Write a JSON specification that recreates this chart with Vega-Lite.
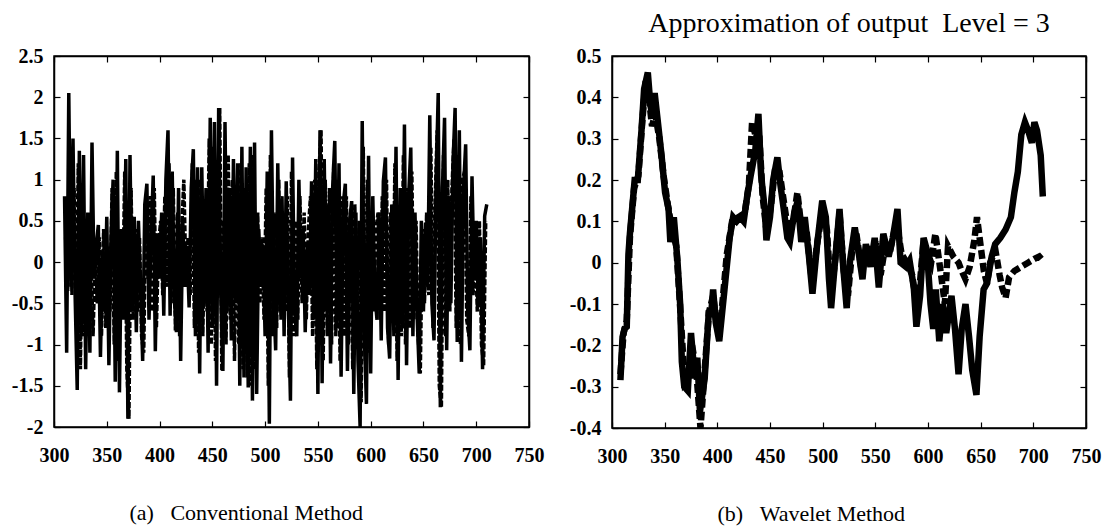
{
  "$schema": "https://vega.github.io/schema/vega-lite/v6.json",
  "background": "white",
  "padding": {"left": 10, "top": 9, "right": 5, "bottom": 5},
  "spacing": 23,
  "config": {
    "locale": {"number": {"decimal": ".", "thousands": ",", "grouping": [3], "currency": ["$", ""], "minus": "-"}},
    "font": "Liberation Serif",
    "view": {"stroke": "black", "strokeWidth": 1.5},
    "axis": {
      "grid": false,
      "domainColor": "black",
      "domainWidth": 1.5,
      "tickColor": "black",
      "tickWidth": 1.2,
      "tickSize": -6,
      "labelFont": "Liberation Serif",
      "labelFontWeight": "bold",
      "labelFontSize": 20,
      "labelColor": "black",
      "labelPadding": 24,
      "labelFlush": false,
      "labelOverlap": false,
      "titleFont": "Liberation Serif",
      "titleFontWeight": "normal",
      "titleFontSize": 22,
      "titleColor": "black"
    },
    "title": {"font": "Liberation Serif", "fontWeight": "normal", "fontSize": 28, "color": "black"}
  },
  "datasets": {
    "conv": [
      {"s":"solid","x":310,"y":0.8},{"s":"solid","x":312,"y":-1.1},{"s":"solid","x":314,"y":2.05},{"s":"solid","x":316,"y":-0.3},{"s":"solid","x":318,"y":1.5},{"s":"solid","x":320,"y":-0.4},{"s":"solid","x":322,"y":-1.55},{"s":"solid","x":324,"y":1.35},{"s":"solid","x":326,"y":-0.9},{"s":"solid","x":328,"y":1.3},
      {"s":"solid","x":330,"y":-1.3},{"s":"solid","x":332,"y":0.6},{"s":"solid","x":334,"y":-1.1},{"s":"solid","x":336,"y":1.45},{"s":"solid","x":338,"y":-0.2},{"s":"solid","x":340,"y":0.2},{"s":"solid","x":342,"y":0.45},{"s":"solid","x":344,"y":-1.15},{"s":"solid","x":346,"y":0.1},{"s":"solid","x":348,"y":-0.6},
      {"s":"solid","x":350,"y":0.55},{"s":"solid","x":352,"y":-1.25},{"s":"solid","x":354,"y":0.3},{"s":"solid","x":356,"y":1.0},{"s":"solid","x":358,"y":-1.45},{"s":"solid","x":360,"y":1.35},{"s":"solid","x":362,"y":-1.58},{"s":"solid","x":364,"y":0.4},{"s":"solid","x":366,"y":-0.7},{"s":"solid","x":368,"y":1.25},
      {"s":"solid","x":370,"y":-1.9},{"s":"solid","x":372,"y":1.3},{"s":"solid","x":374,"y":-0.6},{"s":"solid","x":376,"y":0.55},{"s":"solid","x":378,"y":-0.85},{"s":"solid","x":380,"y":0.5},{"s":"solid","x":382,"y":-0.3},{"s":"solid","x":384,"y":-1.2},{"s":"solid","x":386,"y":0.7},{"s":"solid","x":388,"y":0.95},
      {"s":"solid","x":390,"y":-0.7},{"s":"solid","x":392,"y":0.3},{"s":"solid","x":394,"y":1.05},{"s":"solid","x":396,"y":-1.08},{"s":"solid","x":398,"y":0.35},{"s":"solid","x":400,"y":-0.2},{"s":"solid","x":402,"y":0.6},{"s":"solid","x":404,"y":-0.65},{"s":"solid","x":406,"y":1.0},{"s":"solid","x":408,"y":1.6},
      {"s":"solid","x":410,"y":-0.65},{"s":"solid","x":412,"y":1.1},{"s":"solid","x":414,"y":-0.45},{"s":"solid","x":416,"y":-0.85},{"s":"solid","x":418,"y":0.9},{"s":"solid","x":420,"y":-1.2},{"s":"solid","x":422,"y":0.5},{"s":"solid","x":424,"y":-0.3},{"s":"solid","x":426,"y":0.2},{"s":"solid","x":428,"y":-0.55},
      {"s":"solid","x":430,"y":0.9},{"s":"solid","x":432,"y":1.37},{"s":"solid","x":434,"y":-0.9},{"s":"solid","x":436,"y":1.15},{"s":"solid","x":438,"y":-1.35},{"s":"solid","x":440,"y":1.15},{"s":"solid","x":442,"y":-0.5},{"s":"solid","x":444,"y":0.9},{"s":"solid","x":446,"y":-1.1},{"s":"solid","x":448,"y":1.75},
      {"s":"solid","x":450,"y":-0.8},{"s":"solid","x":452,"y":1.7},{"s":"solid","x":454,"y":-1.5},{"s":"solid","x":456,"y":1.87},{"s":"solid","x":458,"y":-0.4},{"s":"solid","x":460,"y":-1.32},{"s":"solid","x":462,"y":1.7},{"s":"solid","x":464,"y":-0.6},{"s":"solid","x":466,"y":0.9},{"s":"solid","x":468,"y":-0.95},
      {"s":"solid","x":470,"y":1.25},{"s":"solid","x":472,"y":-0.5},{"s":"solid","x":474,"y":1.2},{"s":"solid","x":476,"y":-1.5},{"s":"solid","x":478,"y":1.4},{"s":"solid","x":480,"y":-1.4},{"s":"solid","x":482,"y":1.15},{"s":"solid","x":484,"y":-1.52},{"s":"solid","x":486,"y":1.4},{"s":"solid","x":488,"y":-1.68},
      {"s":"solid","x":490,"y":1.45},{"s":"solid","x":492,"y":-1.6},{"s":"solid","x":494,"y":0.4},{"s":"solid","x":496,"y":-0.3},{"s":"solid","x":498,"y":0.2},{"s":"solid","x":500,"y":-0.9},{"s":"solid","x":502,"y":1.1},{"s":"solid","x":504,"y":-1.96},{"s":"solid","x":506,"y":1.6},{"s":"solid","x":508,"y":-0.4},
      {"s":"solid","x":510,"y":-1.07},{"s":"solid","x":512,"y":1.2},{"s":"solid","x":514,"y":-0.6},{"s":"solid","x":516,"y":0.8},{"s":"solid","x":518,"y":-0.9},{"s":"solid","x":520,"y":0.98},{"s":"solid","x":522,"y":-0.5},{"s":"solid","x":524,"y":-1.68},{"s":"solid","x":526,"y":1.27},{"s":"solid","x":528,"y":-0.6},
      {"s":"solid","x":530,"y":-0.9},{"s":"solid","x":532,"y":1.0},{"s":"solid","x":534,"y":-0.2},{"s":"solid","x":536,"y":0.4},{"s":"solid","x":538,"y":-0.85},{"s":"solid","x":540,"y":0.2},{"s":"solid","x":542,"y":-0.4},{"s":"solid","x":544,"y":0.98},{"s":"solid","x":546,"y":-0.7},{"s":"solid","x":548,"y":1.25},
      {"s":"solid","x":550,"y":-1.6},{"s":"solid","x":552,"y":1.6},{"s":"solid","x":554,"y":-1.47},{"s":"solid","x":556,"y":1.25},{"s":"solid","x":558,"y":-0.6},{"s":"solid","x":560,"y":0.7},{"s":"solid","x":562,"y":-1.23},{"s":"solid","x":564,"y":0.9},{"s":"solid","x":566,"y":1.47},{"s":"solid","x":568,"y":-0.8},
      {"s":"solid","x":570,"y":1.2},{"s":"solid","x":572,"y":-1.39},{"s":"solid","x":574,"y":0.7},{"s":"solid","x":576,"y":0.95},{"s":"solid","x":578,"y":-1.32},{"s":"solid","x":580,"y":0.5},{"s":"solid","x":582,"y":0.74},{"s":"solid","x":584,"y":-1.6},{"s":"solid","x":586,"y":0.6},{"s":"solid","x":588,"y":-1.2},
      {"s":"solid","x":590,"y":-2.0},{"s":"solid","x":592,"y":1.71},{"s":"solid","x":594,"y":-0.9},{"s":"solid","x":596,"y":-1.72},{"s":"solid","x":598,"y":1.29},{"s":"solid","x":600,"y":-1.35},{"s":"solid","x":602,"y":0.8},{"s":"solid","x":604,"y":-0.4},{"s":"solid","x":606,"y":-0.7},{"s":"solid","x":608,"y":0.6},
      {"s":"solid","x":610,"y":-0.95},{"s":"solid","x":612,"y":0.98},{"s":"solid","x":614,"y":1.27},{"s":"solid","x":616,"y":-0.8},{"s":"solid","x":618,"y":-1.17},{"s":"solid","x":620,"y":0.7},{"s":"solid","x":622,"y":-0.9},{"s":"solid","x":624,"y":1.4},{"s":"solid","x":626,"y":-1.43},{"s":"solid","x":628,"y":0.9},
      {"s":"solid","x":630,"y":-0.8},{"s":"solid","x":632,"y":1.67},{"s":"solid","x":634,"y":-1.25},{"s":"solid","x":636,"y":0.8},{"s":"solid","x":638,"y":1.39},{"s":"solid","x":640,"y":-0.9},{"s":"solid","x":642,"y":0.6},{"s":"solid","x":644,"y":-0.65},{"s":"solid","x":646,"y":-1.35},{"s":"solid","x":648,"y":0.5},
      {"s":"solid","x":650,"y":-0.6},{"s":"solid","x":652,"y":0.48},{"s":"solid","x":654,"y":-0.3},{"s":"solid","x":656,"y":1.78},{"s":"solid","x":658,"y":-0.5},{"s":"solid","x":660,"y":-0.95},{"s":"solid","x":662,"y":1.0},{"s":"solid","x":664,"y":2.05},{"s":"solid","x":666,"y":-1.76},{"s":"solid","x":668,"y":0.9},
      {"s":"solid","x":670,"y":1.75},{"s":"solid","x":672,"y":-1.07},{"s":"solid","x":674,"y":0.8},{"s":"solid","x":676,"y":-0.5},{"s":"solid","x":678,"y":1.2},{"s":"solid","x":680,"y":1.87},{"s":"solid","x":682,"y":-0.97},{"s":"solid","x":684,"y":1.6},{"s":"solid","x":686,"y":-1.21},{"s":"solid","x":688,"y":0.9},
      {"s":"solid","x":690,"y":1.43},{"s":"solid","x":692,"y":-0.6},{"s":"solid","x":694,"y":-1.07},{"s":"solid","x":696,"y":1.04},{"s":"solid","x":698,"y":-0.2},{"s":"solid","x":700,"y":0.5},{"s":"solid","x":702,"y":-0.5},{"s":"solid","x":704,"y":0.3},{"s":"solid","x":706,"y":-1.3},{"s":"solid","x":708,"y":0.56},
      {"s":"solid","x":710,"y":0.7},
      {"s":"dashed","x":311,"y":0.3},{"s":"dashed","x":313,"y":-0.35},{"s":"dashed","x":315,"y":1.2},{"s":"dashed","x":317,"y":-0.4},{"s":"dashed","x":319,"y":0.9},{"s":"dashed","x":321,"y":-0.5},{"s":"dashed","x":323,"y":1.2},{"s":"dashed","x":325,"y":-1.3},{"s":"dashed","x":327,"y":0.8},{"s":"dashed","x":329,"y":-0.9},
      {"s":"dashed","x":331,"y":0.5},{"s":"dashed","x":333,"y":-0.4},{"s":"dashed","x":335,"y":0.2},{"s":"dashed","x":337,"y":-0.9},{"s":"dashed","x":339,"y":0.1},{"s":"dashed","x":341,"y":-0.5},{"s":"dashed","x":343,"y":0.3},{"s":"dashed","x":345,"y":-0.9},{"s":"dashed","x":347,"y":0.4},{"s":"dashed","x":349,"y":-0.8},
      {"s":"dashed","x":351,"y":0.2},{"s":"dashed","x":353,"y":-0.6},{"s":"dashed","x":355,"y":0.9},{"s":"dashed","x":357,"y":-1.0},{"s":"dashed","x":359,"y":1.1},{"s":"dashed","x":361,"y":-1.2},{"s":"dashed","x":363,"y":0.3},{"s":"dashed","x":365,"y":-0.5},{"s":"dashed","x":367,"y":1.1},{"s":"dashed","x":369,"y":-1.3},
      {"s":"dashed","x":371,"y":-1.9},{"s":"dashed","x":373,"y":0.9},{"s":"dashed","x":375,"y":-0.7},{"s":"dashed","x":377,"y":0.4},{"s":"dashed","x":379,"y":-0.6},{"s":"dashed","x":381,"y":0.3},{"s":"dashed","x":383,"y":-0.9},{"s":"dashed","x":385,"y":-1.1},{"s":"dashed","x":387,"y":0.6},{"s":"dashed","x":389,"y":-0.2},
      {"s":"dashed","x":391,"y":0.8},{"s":"dashed","x":393,"y":-0.6},{"s":"dashed","x":395,"y":0.9},{"s":"dashed","x":397,"y":-0.8},{"s":"dashed","x":399,"y":0.2},{"s":"dashed","x":401,"y":0.5},{"s":"dashed","x":403,"y":-0.4},{"s":"dashed","x":405,"y":0.8},{"s":"dashed","x":407,"y":-0.3},{"s":"dashed","x":409,"y":1.2},
      {"s":"dashed","x":411,"y":-0.5},{"s":"dashed","x":413,"y":0.9},{"s":"dashed","x":415,"y":-0.83},{"s":"dashed","x":417,"y":0.6},{"s":"dashed","x":419,"y":-0.9},{"s":"dashed","x":421,"y":0.4},{"s":"dashed","x":423,"y":1.0},{"s":"dashed","x":425,"y":-0.2},{"s":"dashed","x":427,"y":0.3},{"s":"dashed","x":429,"y":-0.4},
      {"s":"dashed","x":431,"y":1.2},{"s":"dashed","x":433,"y":-0.8},{"s":"dashed","x":435,"y":1.0},{"s":"dashed","x":437,"y":-1.1},{"s":"dashed","x":439,"y":1.0},{"s":"dashed","x":441,"y":-0.9},{"s":"dashed","x":443,"y":0.7},{"s":"dashed","x":445,"y":-0.6},{"s":"dashed","x":447,"y":1.5},{"s":"dashed","x":449,"y":-1.0},
      {"s":"dashed","x":451,"y":1.4},{"s":"dashed","x":453,"y":-1.2},{"s":"dashed","x":455,"y":0.6},{"s":"dashed","x":457,"y":1.87},{"s":"dashed","x":459,"y":-1.32},{"s":"dashed","x":461,"y":0.5},{"s":"dashed","x":463,"y":-1.0},{"s":"dashed","x":465,"y":1.3},{"s":"dashed","x":467,"y":-0.7},{"s":"dashed","x":469,"y":1.0},
      {"s":"dashed","x":471,"y":-1.2},{"s":"dashed","x":473,"y":0.9},{"s":"dashed","x":475,"y":-1.0},{"s":"dashed","x":477,"y":1.2},{"s":"dashed","x":479,"y":-1.3},{"s":"dashed","x":481,"y":0.9},{"s":"dashed","x":483,"y":-1.4},{"s":"dashed","x":485,"y":1.2},{"s":"dashed","x":487,"y":-1.5},{"s":"dashed","x":489,"y":1.3},
      {"s":"dashed","x":491,"y":-1.3},{"s":"dashed","x":493,"y":0.6},{"s":"dashed","x":495,"y":-0.5},{"s":"dashed","x":497,"y":0.3},{"s":"dashed","x":499,"y":-0.7},{"s":"dashed","x":501,"y":0.9},{"s":"dashed","x":503,"y":-1.5},{"s":"dashed","x":505,"y":1.3},{"s":"dashed","x":507,"y":-0.9},{"s":"dashed","x":509,"y":0.6},
      {"s":"dashed","x":511,"y":-0.8},{"s":"dashed","x":513,"y":1.0},{"s":"dashed","x":515,"y":-0.7},{"s":"dashed","x":517,"y":0.6},{"s":"dashed","x":519,"y":-0.6},{"s":"dashed","x":521,"y":0.8},{"s":"dashed","x":523,"y":-1.4},{"s":"dashed","x":525,"y":1.1},{"s":"dashed","x":527,"y":-0.9},{"s":"dashed","x":529,"y":0.5},
      {"s":"dashed","x":531,"y":-0.7},{"s":"dashed","x":533,"y":0.8},{"s":"dashed","x":535,"y":-0.5},{"s":"dashed","x":537,"y":0.6},{"s":"dashed","x":539,"y":-0.7},{"s":"dashed","x":541,"y":0.4},{"s":"dashed","x":543,"y":0.8},{"s":"dashed","x":545,"y":-0.9},{"s":"dashed","x":547,"y":1.0},{"s":"dashed","x":549,"y":-1.3},
      {"s":"dashed","x":551,"y":1.1},{"s":"dashed","x":553,"y":1.6},{"s":"dashed","x":555,"y":-1.2},{"s":"dashed","x":557,"y":1.0},{"s":"dashed","x":559,"y":-0.9},{"s":"dashed","x":561,"y":0.9},{"s":"dashed","x":563,"y":-1.0},{"s":"dashed","x":565,"y":1.2},{"s":"dashed","x":567,"y":-0.9},{"s":"dashed","x":569,"y":1.0},
      {"s":"dashed","x":571,"y":-1.2},{"s":"dashed","x":573,"y":0.8},{"s":"dashed","x":575,"y":-0.9},{"s":"dashed","x":577,"y":0.8},{"s":"dashed","x":579,"y":-1.0},{"s":"dashed","x":581,"y":0.6},{"s":"dashed","x":583,"y":-1.3},{"s":"dashed","x":585,"y":0.7},{"s":"dashed","x":587,"y":-0.9},{"s":"dashed","x":589,"y":0.5},
      {"s":"dashed","x":591,"y":-1.7},{"s":"dashed","x":593,"y":1.4},{"s":"dashed","x":595,"y":-1.2},{"s":"dashed","x":597,"y":1.0},{"s":"dashed","x":599,"y":-1.1},{"s":"dashed","x":601,"y":0.6},{"s":"dashed","x":603,"y":-0.6},{"s":"dashed","x":605,"y":0.4},{"s":"dashed","x":607,"y":0.6},{"s":"dashed","x":609,"y":-0.7},
      {"s":"dashed","x":611,"y":0.8},{"s":"dashed","x":613,"y":-0.6},{"s":"dashed","x":615,"y":1.0},{"s":"dashed","x":617,"y":-1.0},{"s":"dashed","x":619,"y":0.6},{"s":"dashed","x":621,"y":-0.7},{"s":"dashed","x":623,"y":1.2},{"s":"dashed","x":625,"y":-1.2},{"s":"dashed","x":627,"y":0.7},{"s":"dashed","x":629,"y":-0.9},
      {"s":"dashed","x":631,"y":1.3},{"s":"dashed","x":633,"y":-1.0},{"s":"dashed","x":635,"y":0.9},{"s":"dashed","x":637,"y":-0.8},{"s":"dashed","x":639,"y":1.1},{"s":"dashed","x":641,"y":-0.7},{"s":"dashed","x":643,"y":0.5},{"s":"dashed","x":645,"y":-0.9},{"s":"dashed","x":647,"y":-1.35},{"s":"dashed","x":649,"y":0.4},
      {"s":"dashed","x":651,"y":-0.5},{"s":"dashed","x":653,"y":0.6},{"s":"dashed","x":655,"y":-0.4},{"s":"dashed","x":657,"y":1.4},{"s":"dashed","x":659,"y":-0.8},{"s":"dashed","x":661,"y":0.7},{"s":"dashed","x":663,"y":1.6},{"s":"dashed","x":665,"y":-1.5},{"s":"dashed","x":667,"y":-1.76},{"s":"dashed","x":669,"y":1.3},
      {"s":"dashed","x":671,"y":-0.9},{"s":"dashed","x":673,"y":1.0},{"s":"dashed","x":675,"y":-0.6},{"s":"dashed","x":677,"y":0.9},{"s":"dashed","x":679,"y":1.5},{"s":"dashed","x":681,"y":-0.8},{"s":"dashed","x":683,"y":1.3},{"s":"dashed","x":685,"y":-1.0},{"s":"dashed","x":687,"y":1.0},{"s":"dashed","x":689,"y":1.1},
      {"s":"dashed","x":691,"y":-0.7},{"s":"dashed","x":693,"y":-0.9},{"s":"dashed","x":695,"y":0.8},{"s":"dashed","x":697,"y":-0.4},{"s":"dashed","x":699,"y":0.3},{"s":"dashed","x":701,"y":-0.6},{"s":"dashed","x":703,"y":0.5},{"s":"dashed","x":705,"y":-1.0},{"s":"dashed","x":707,"y":-1.25},{"s":"dashed","x":709,"y":0.5}
    ],
    "wav": [
      {"s":"solid","x":308,"y":-0.284},{"s":"solid","x":310,"y":-0.18},{"s":"solid","x":312,"y":-0.16},{"s":"solid","x":314,"y":-0.155},{"s":"solid","x":315.6,"y":0.02},{"s":"solid","x":317,"y":0.07},{"s":"solid","x":320.5,"y":0.17},{"s":"solid","x":321.5,"y":0.2},{"s":"solid","x":324.5,"y":0.2},{"s":"solid","x":328,"y":0.32},
      {"s":"solid","x":330.5,"y":0.42},{"s":"solid","x":334,"y":0.46},{"s":"solid","x":336.5,"y":0.38},{"s":"solid","x":338,"y":0.36},{"s":"solid","x":340.5,"y":0.41},{"s":"solid","x":344,"y":0.33},{"s":"solid","x":347,"y":0.26},{"s":"solid","x":350.4,"y":0.17},{"s":"solid","x":353.7,"y":0.13},{"s":"solid","x":355.4,"y":0.05},
      {"s":"solid","x":358.7,"y":0.11},{"s":"solid","x":362,"y":0.01},{"s":"solid","x":364.7,"y":-0.1},{"s":"solid","x":366.3,"y":-0.24},{"s":"solid","x":368.6,"y":-0.3},{"s":"solid","x":372,"y":-0.31},{"s":"solid","x":375,"y":-0.17},{"s":"solid","x":378.6,"y":-0.28},{"s":"solid","x":381,"y":-0.23},{"s":"solid","x":383.5,"y":-0.36},
      {"s":"solid","x":388,"y":-0.28},{"s":"solid","x":392,"y":-0.115},{"s":"solid","x":394,"y":-0.13},{"s":"solid","x":396,"y":-0.065},{"s":"solid","x":398.5,"y":-0.145},{"s":"solid","x":401.8,"y":-0.19},{"s":"solid","x":406.8,"y":-0.065},{"s":"solid","x":411.7,"y":0.06},{"s":"solid","x":415,"y":0.11},{"s":"solid","x":418.4,"y":0.1},
      {"s":"solid","x":421.7,"y":0.11},{"s":"solid","x":425,"y":0.1},{"s":"solid","x":428.3,"y":0.16},{"s":"solid","x":431.6,"y":0.21},{"s":"solid","x":436,"y":0.27},{"s":"solid","x":439,"y":0.36},{"s":"solid","x":441.6,"y":0.21},{"s":"solid","x":445,"y":0.13},{"s":"solid","x":446.6,"y":0.054},{"s":"solid","x":450,"y":0.11},
      {"s":"solid","x":453,"y":0.2},{"s":"solid","x":457,"y":0.255},{"s":"solid","x":459.8,"y":0.19},{"s":"solid","x":463,"y":0.13},{"s":"solid","x":466.5,"y":0.06},{"s":"solid","x":468.8,"y":0.05},{"s":"solid","x":473,"y":0.12},{"s":"solid","x":476.4,"y":0.15},{"s":"solid","x":479.7,"y":0.05},{"s":"solid","x":483,"y":0.11},
      {"s":"solid","x":487,"y":0.015},{"s":"solid","x":490.3,"y":-0.075},{"s":"solid","x":494.6,"y":0.04},{"s":"solid","x":499.6,"y":0.15},{"s":"solid","x":503,"y":0.11},{"s":"solid","x":506,"y":-0.04},{"s":"solid","x":508,"y":-0.11},{"s":"solid","x":511,"y":-0.02},{"s":"solid","x":516,"y":0.13},{"s":"solid","x":519.5,"y":-0.01},
      {"s":"solid","x":522.8,"y":-0.11},{"s":"solid","x":526,"y":0.005},{"s":"solid","x":530.5,"y":0.085},{"s":"solid","x":534.4,"y":0.02},{"s":"solid","x":537.8,"y":-0.04},{"s":"solid","x":541,"y":0.045},{"s":"solid","x":545.4,"y":-0.01},{"s":"solid","x":549.4,"y":0.06},{"s":"solid","x":553.3,"y":-0.06},{"s":"solid","x":557.6,"y":0.07},
      {"s":"solid","x":562.6,"y":0.015},{"s":"solid","x":566.6,"y":0.06},{"s":"solid","x":571,"y":0.13},{"s":"solid","x":574,"y":0.0},{"s":"solid","x":579,"y":-0.01},{"s":"solid","x":582.5,"y":0.005},{"s":"solid","x":586.5,"y":-0.06},{"s":"solid","x":589,"y":-0.155},{"s":"solid","x":592.5,"y":-0.08},{"s":"solid","x":595.8,"y":0.06},
      {"s":"solid","x":599,"y":0.03},{"s":"solid","x":602.4,"y":-0.1},{"s":"solid","x":605,"y":-0.16},{"s":"solid","x":607.4,"y":-0.065},{"s":"solid","x":610.7,"y":-0.19},{"s":"solid","x":614,"y":-0.1},{"s":"solid","x":617.3,"y":-0.17},{"s":"solid","x":622.3,"y":-0.08},{"s":"solid","x":625.6,"y":-0.16},{"s":"solid","x":629,"y":-0.27},
      {"s":"solid","x":632,"y":-0.16},{"s":"solid","x":635.6,"y":-0.1},{"s":"solid","x":639,"y":-0.18},{"s":"solid","x":642,"y":-0.26},{"s":"solid","x":646,"y":-0.32},{"s":"solid","x":649,"y":-0.18},{"s":"solid","x":652.8,"y":-0.065},{"s":"solid","x":656,"y":-0.05},{"s":"solid","x":660.5,"y":0.015},{"s":"solid","x":663.8,"y":0.045},
      {"s":"solid","x":668.7,"y":0.06},{"s":"solid","x":673.7,"y":0.08},{"s":"solid","x":678.7,"y":0.11},{"s":"solid","x":682,"y":0.17},{"s":"solid","x":685.3,"y":0.22},{"s":"solid","x":688.6,"y":0.31},{"s":"solid","x":692,"y":0.34},{"s":"solid","x":695,"y":0.32},{"s":"solid","x":698.6,"y":0.29},{"s":"solid","x":701,"y":0.34},
      {"s":"solid","x":703.5,"y":0.32},{"s":"solid","x":707,"y":0.26},{"s":"solid","x":709,"y":0.16},
      {"s":"dashed","x":308,"y":-0.27},{"s":"dashed","x":311,"y":-0.17},{"s":"dashed","x":314,"y":-0.14},{"s":"dashed","x":317,"y":0.06},{"s":"dashed","x":321,"y":0.18},{"s":"dashed","x":325,"y":0.21},{"s":"dashed","x":329,"y":0.35},{"s":"dashed","x":332,"y":0.44},{"s":"dashed","x":335,"y":0.4},{"s":"dashed","x":338,"y":0.33},
      {"s":"dashed","x":341,"y":0.36},{"s":"dashed","x":345,"y":0.3},{"s":"dashed","x":349,"y":0.21},{"s":"dashed","x":353,"y":0.14},{"s":"dashed","x":357,"y":0.08},{"s":"dashed","x":361,"y":0.04},{"s":"dashed","x":365,"y":-0.12},{"s":"dashed","x":369,"y":-0.29},{"s":"dashed","x":372,"y":-0.28},{"s":"dashed","x":376,"y":-0.2},
      {"s":"dashed","x":380,"y":-0.26},{"s":"dashed","x":384,"y":-0.4},{"s":"dashed","x":388,"y":-0.26},{"s":"dashed","x":392,"y":-0.12},{"s":"dashed","x":396,"y":-0.08},{"s":"dashed","x":400,"y":-0.16},{"s":"dashed","x":404,"y":-0.12},{"s":"dashed","x":409,"y":0.02},{"s":"dashed","x":414,"y":0.1},{"s":"dashed","x":420,"y":0.11},
      {"s":"dashed","x":426,"y":0.12},{"s":"dashed","x":430,"y":0.19},{"s":"dashed","x":433,"y":0.34},{"s":"dashed","x":437,"y":0.3},{"s":"dashed","x":440,"y":0.3},{"s":"dashed","x":443,"y":0.16},{"s":"dashed","x":447,"y":0.07},{"s":"dashed","x":451,"y":0.14},{"s":"dashed","x":455,"y":0.23},{"s":"dashed","x":459,"y":0.22},
      {"s":"dashed","x":463,"y":0.15},{"s":"dashed","x":467,"y":0.08},{"s":"dashed","x":472,"y":0.1},{"s":"dashed","x":476,"y":0.17},{"s":"dashed","x":480,"y":0.08},{"s":"dashed","x":485,"y":0.07},{"s":"dashed","x":490,"y":-0.05},{"s":"dashed","x":495,"y":0.05},{"s":"dashed","x":500,"y":0.13},{"s":"dashed","x":504,"y":0.08},
      {"s":"dashed","x":508,"y":-0.08},{"s":"dashed","x":512,"y":0.01},{"s":"dashed","x":516,"y":0.12},{"s":"dashed","x":520,"y":-0.02},{"s":"dashed","x":524,"y":-0.08},{"s":"dashed","x":528,"y":0.03},{"s":"dashed","x":532,"y":0.07},{"s":"dashed","x":537,"y":-0.02},{"s":"dashed","x":542,"y":0.04},{"s":"dashed","x":547,"y":0.02},
      {"s":"dashed","x":551,"y":0.05},{"s":"dashed","x":555,"y":-0.03},{"s":"dashed","x":560,"y":0.05},{"s":"dashed","x":565,"y":0.04},{"s":"dashed","x":570,"y":0.1},{"s":"dashed","x":575,"y":0.02},{"s":"dashed","x":580,"y":0.0},{"s":"dashed","x":585,"y":-0.03},{"s":"dashed","x":590,"y":-0.12},{"s":"dashed","x":595,"y":0.03},
      {"s":"dashed","x":600,"y":0.02},{"s":"dashed","x":603,"y":0.0},{"s":"dashed","x":607,"y":0.07},{"s":"dashed","x":612.7,"y":-0.035},{"s":"dashed","x":616,"y":-0.1},{"s":"dashed","x":619,"y":0.04},{"s":"dashed","x":624,"y":0.015},{"s":"dashed","x":629,"y":0.0},{"s":"dashed","x":632,"y":-0.02},{"s":"dashed","x":635.6,"y":-0.04},
      {"s":"dashed","x":639.6,"y":-0.01},{"s":"dashed","x":644,"y":0.054},{"s":"dashed","x":646.5,"y":0.11},{"s":"dashed","x":649,"y":0.06},{"s":"dashed","x":653,"y":-0.02},{"s":"dashed","x":656,"y":-0.05},{"s":"dashed","x":659,"y":0.0},{"s":"dashed","x":664,"y":0.03},{"s":"dashed","x":668,"y":-0.03},{"s":"dashed","x":670.4,"y":-0.06},
      {"s":"dashed","x":673.7,"y":-0.085},{"s":"dashed","x":677,"y":-0.035},{"s":"dashed","x":682,"y":-0.02},{"s":"dashed","x":688.6,"y":-0.01},{"s":"dashed","x":695,"y":0.0},{"s":"dashed","x":701.6,"y":0.01},{"s":"dashed","x":705.6,"y":0.015},{"s":"dashed","x":709,"y":0.005}
    ]
  },
  "hconcat": [
    {
      "width": 475,
      "height": 371,
      "data": {"name": "conv"},
      "layer": [
        {
          "transform": [{"filter": "datum.s === 'solid'"}],
          "mark": {"type": "line", "color": "black", "strokeWidth": 3.5, "clip": true},
          "encoding": {
            "x": {"field": "x", "type": "quantitative", "scale": {"domain": [300, 750], "nice": false, "zero": false},
              "axis": {"orient": "bottom", "values": [300,350,400,450,500,550,600,650,700,750], "format": "~r",
                "title": "(a)\u00a0\u00a0\u00a0Conventional Method", "titleX": 75, "titleY": 85, "titleAlign": "left", "titleBaseline": "middle", "titleAnchor": null}},
            "y": {"field": "y", "type": "quantitative", "scale": {"domain": [-2, 2.5], "nice": false, "zero": false},
              "axis": {"orient": "left", "values": [-2,-1.5,-1,-0.5,0,0.5,1,1.5,2,2.5], "format": "~r", "title": null, "labelPadding": 17}}
          }
        },
        {
          "transform": [{"filter": "datum.s === 'dashed'"}],
          "mark": {"type": "line", "color": "black", "strokeWidth": 3.5, "strokeDash": [6, 2], "clip": true},
          "encoding": {
            "x": {"field": "x", "type": "quantitative",
              "axis": {"orient": "top", "values": [300,350,400,450,500,550,600,650,700,750], "labels": false, "title": null}},
            "y": {"field": "y", "type": "quantitative",
              "axis": {"orient": "right", "values": [-2,-1.5,-1,-0.5,0,0.5,1,1.5,2,2.5], "labels": false, "title": null}}
          }
        }
      ],
      "resolve": {"axis": {"x": "independent", "y": "independent"}}
    },
    {
      "width": 474,
      "height": 372,
      "title": {"text": "Approximation of output\u00a0\u00a0Level = 3", "anchor": "middle", "offset": 8},
      "data": {"name": "wav"},
      "layer": [
        {
          "transform": [{"filter": "datum.s === 'solid'"}],
          "mark": {"type": "line", "color": "black", "strokeWidth": 6.5, "clip": true},
          "encoding": {
            "x": {"field": "x", "type": "quantitative", "scale": {"domain": [300, 750], "nice": false, "zero": false},
              "axis": {"orient": "bottom", "values": [300,350,400,450,500,550,600,650,700,750], "format": "~r",
                "title": "(b)\u00a0\u00a0\u00a0Wavelet Method", "titleX": 105, "titleY": 85, "titleAlign": "left", "titleBaseline": "middle", "titleAnchor": null}},
            "y": {"field": "y", "type": "quantitative", "scale": {"domain": [-0.4, 0.5], "nice": false, "zero": false},
              "axis": {"orient": "left", "values": [-0.4,-0.3,-0.2,-0.1,0,0.1,0.2,0.3,0.4,0.5], "format": "~r", "title": null, "labelPadding": 17}}
          }
        },
        {
          "transform": [{"filter": "datum.s === 'dashed'"}],
          "mark": {"type": "line", "color": "black", "strokeWidth": 6.5, "strokeDash": [9, 4], "clip": true},
          "encoding": {
            "x": {"field": "x", "type": "quantitative",
              "axis": {"orient": "top", "values": [300,350,400,450,500,550,600,650,700,750], "labels": false, "title": null}},
            "y": {"field": "y", "type": "quantitative",
              "axis": {"orient": "right", "values": [-0.4,-0.3,-0.2,-0.1,0,0.1,0.2,0.3,0.4,0.5], "labels": false, "title": null}}
          }
        }
      ],
      "resolve": {"axis": {"x": "independent", "y": "independent"}}
    }
  ]
}
